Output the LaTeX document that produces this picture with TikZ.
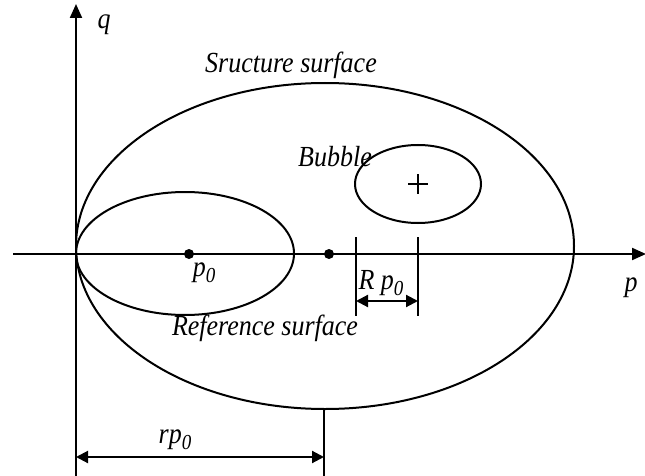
\documentclass[tikz,border=0pt]{standalone}
\usepackage{graphicx}
\usepackage{fontspec}
\setmainfont{Liberation Serif}
\usetikzlibrary{arrows.meta}
\newcommand\mysub[1]{\raisebox{-0.45ex}{\fontsize{19}{19}\selectfont\itshape #1}}
\newcommand\tall[1]{\scalebox{1}[1.12]{#1}}
\begin{document}
\begin{tikzpicture}[x=1pt,y=-1pt, line width=2.1pt,
  lbl/.style={font=\fontsize{26}{26}\selectfont\itshape, inner sep=0pt},
  axisarrow/.style={-{Triangle[length=14pt,width=12pt]}},
  dimarrow/.style={{Triangle[length=12pt,width=12pt]}-{Triangle[length=12pt,width=12pt]}},
  curve/.style={line width=2pt}]
\useasboundingbox (0,0) rectangle (645,476);
% axes
\coordinate (qbot) at (76,476);
\coordinate (qtop) at (76,4);
\coordinate (pleft) at (13,254);
\coordinate (pright) at (646,254);
\draw[axisarrow] (qbot) -- (qtop);
\draw[axisarrow] (pleft) -- (pright);
% surfaces
\draw[curve] (325,246) ellipse [x radius=249, y radius=163];
\draw[curve] (185,253.5) ellipse [x radius=109, y radius=61.5];
\draw[curve] (418,184) ellipse [x radius=63, y radius=39];
% bubble centre
\coordinate (pl) at (408,184); \coordinate (pr) at (428,184);
\coordinate (pt) at (418,174); \coordinate (pb) at (418,194);
\draw[line width=1.6pt] (pl) -- (pr) (pt) -- (pb);
% dots
\fill (189,254) circle (5);
\fill (329,254) circle (5);
% Rp0 dimension
\coordinate (t1a) at (356,237); \coordinate (t1b) at (356,316);
\coordinate (t2a) at (418,237); \coordinate (t2b) at (418,316);
\draw (t1a) -- (t1b);
\draw (t2a) -- (t2b);
\coordinate (d1) at (356,301); \coordinate (d2) at (418,301);
\draw[dimarrow] (d1) -- (d2);
% rp0 dimension
\coordinate (rtop) at (324,409); \coordinate (rbot) at (324,476);
\draw (rtop) -- (rbot);
\coordinate (r1) at (76,457); \coordinate (r2) at (324,457);
\draw[dimarrow] (r1) -- (r2);
% labels
\node[lbl] (qlab) at (104,25) {\tall{q}};
\node[lbl] (plab) at (631,288) {\tall{p}};
\node[lbl] (slab) at (291,65) {\tall{Sructure surface}};
\node[lbl] (blab) at (335,157) {\tall{Bubble}};
\node[lbl] (reflab) at (265,328) {\tall{Reference surface}};
\node[lbl] (p0lab) at (204,273) {\tall{p\mysub{0}}};
\node[lbl] (Rlab) at (381,283) {\tall{R p\mysub{0}}};
\node[lbl] (rlab) at (175,440) {\tall{rp\mysub{0}}};
\end{tikzpicture}
\end{document}
